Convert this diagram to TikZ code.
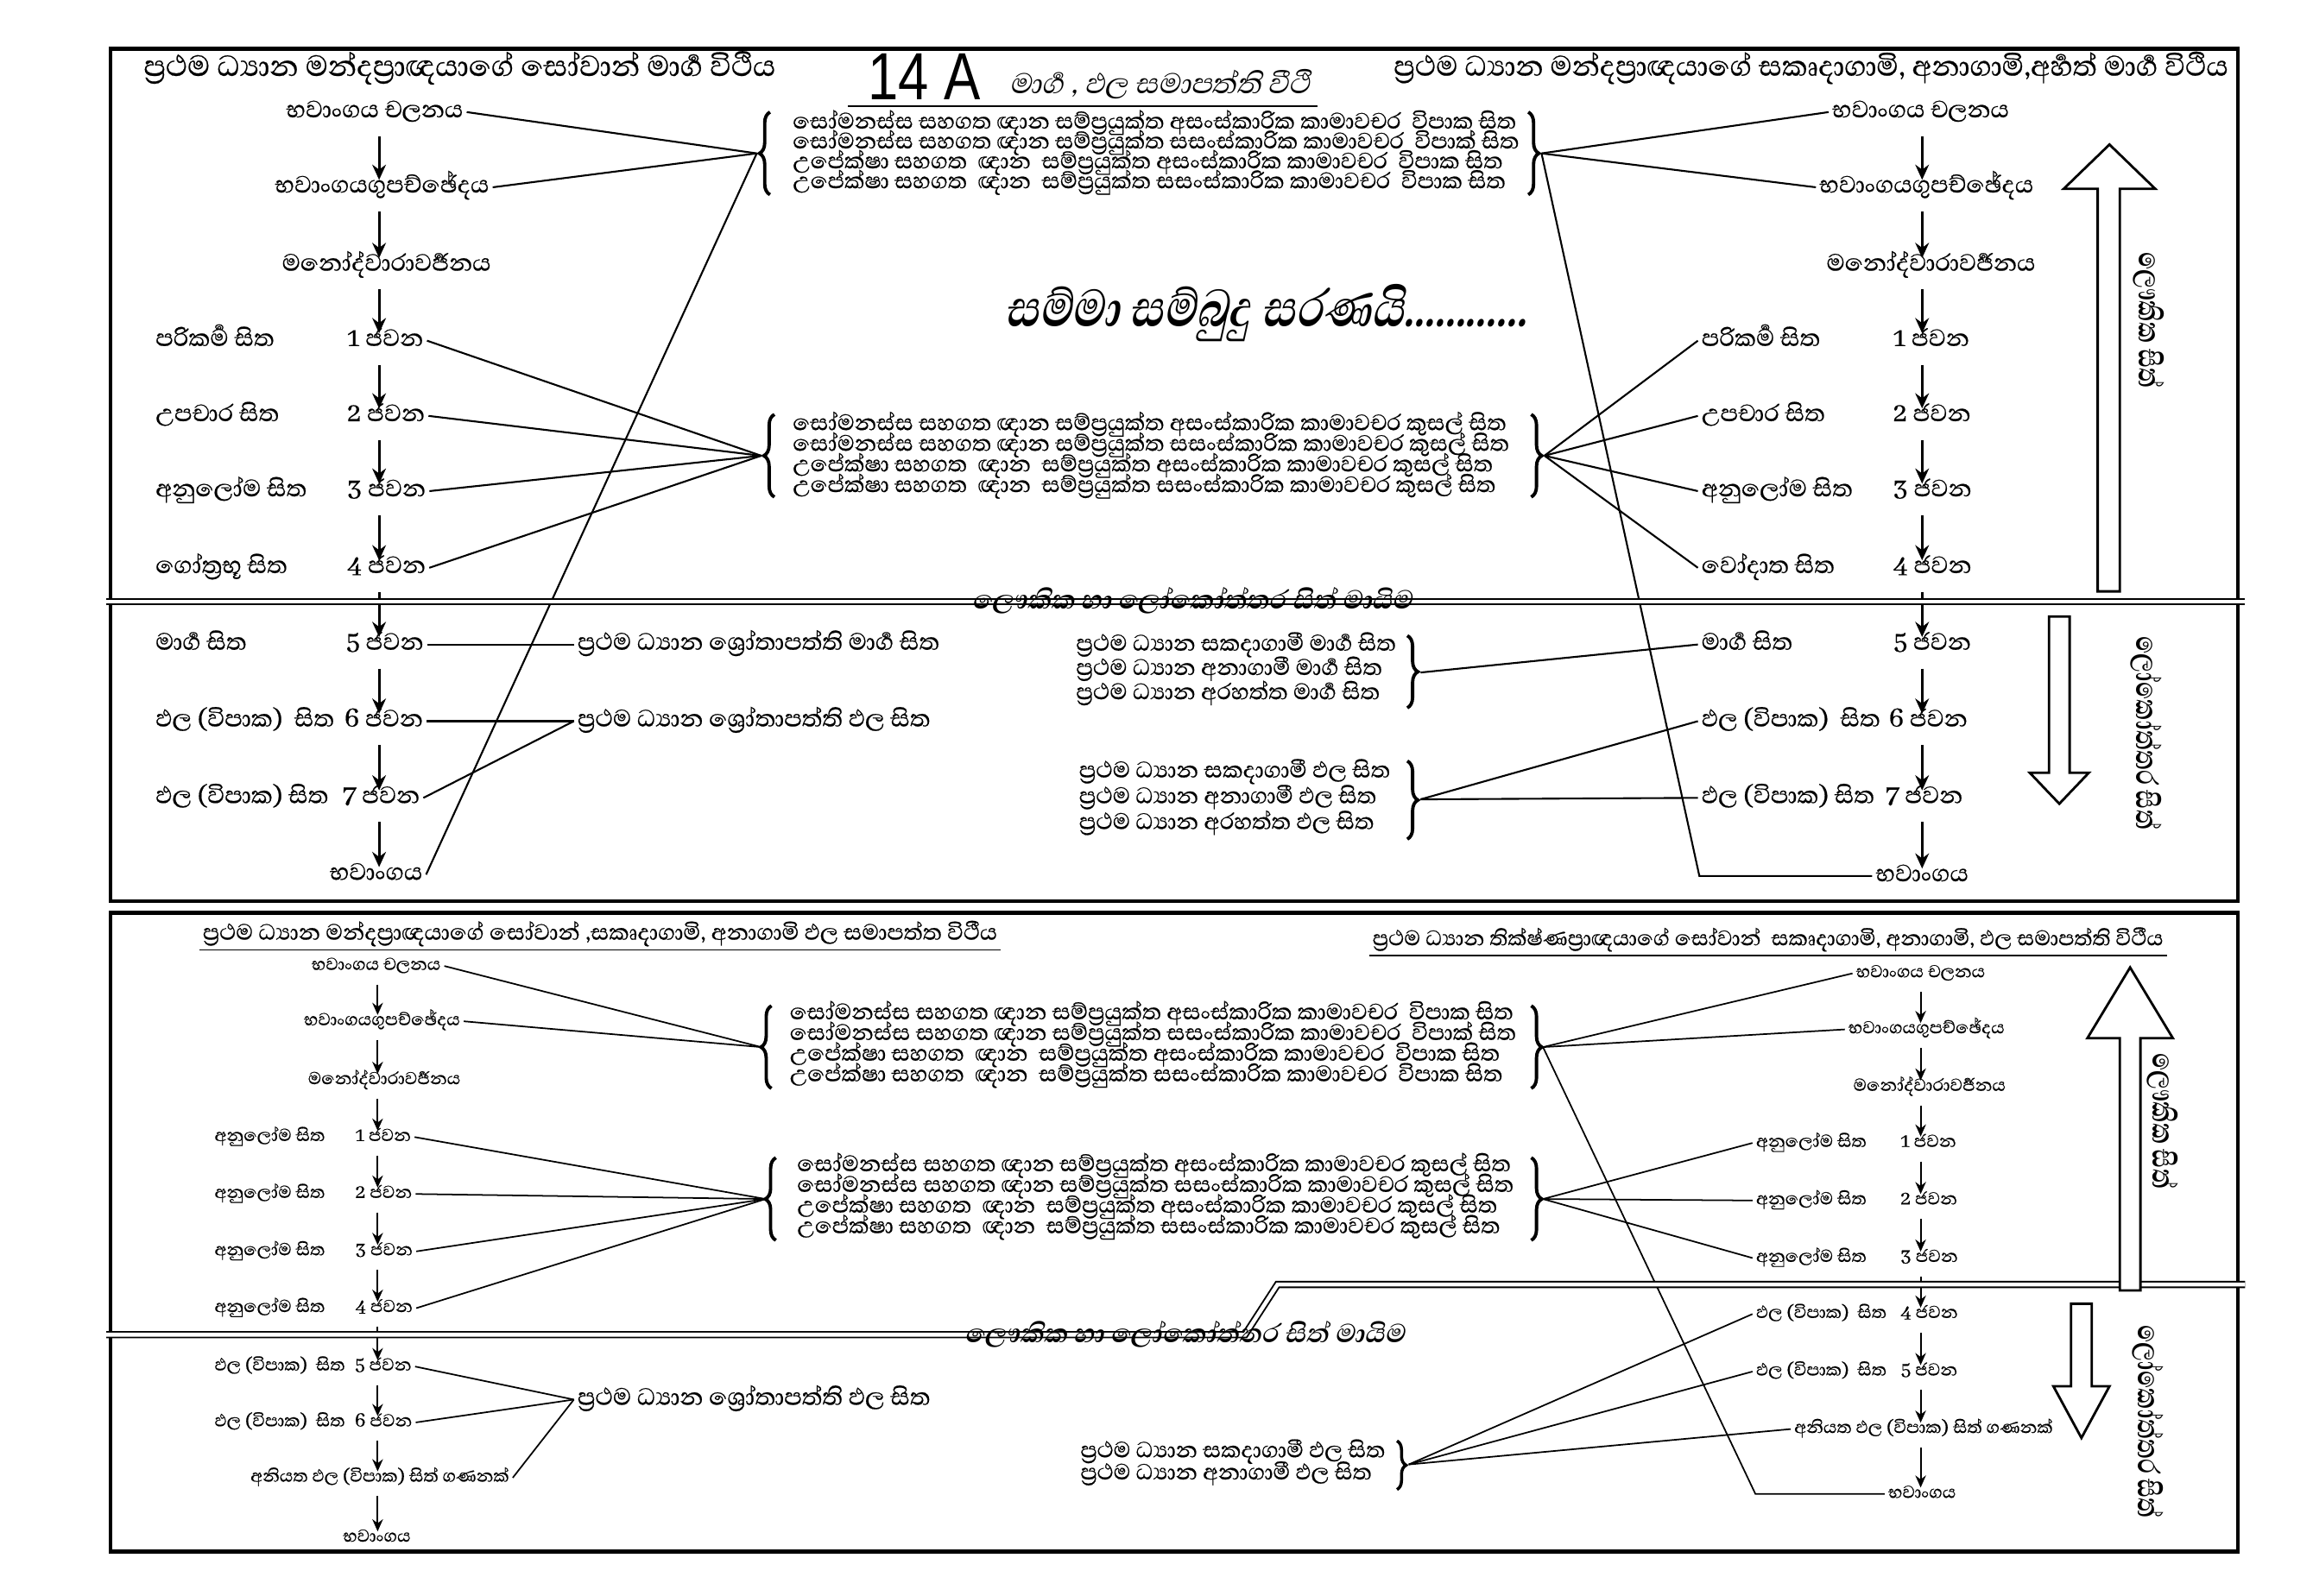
\documentclass[tikz,border=0pt]{standalone}
\usepackage{fontspec}
\usetikzlibrary{arrows.meta,decorations.pathreplacing}
\newfontfamily\sifont[Script=Sinhala,FakeBold=0.5]{Abhaya Libre}
\newfontfamily\sislant[Script=Sinhala,FakeSlant=0.22]{Abhaya Libre}
\newfontfamily\sitall[Script=Sinhala,FakeSlant=0.22,FakeStretch=0.8]{Abhaya Libre}
\newfontfamily\sinarrow[Script=Sinhala,FakeStretch=0.75]{Abhaya Libre}
\newfontfamily\latn{Liberation Sans}
\newcommand\jn{^^^^200d}
\tikzset{
  lbl/.style={font=\sifont\fontsize{10}{12}\selectfont, inner sep=1pt, text height=5pt, text depth=1.5pt},
  flbl/.style={font=\sifont\fontsize{9.5}{11}\selectfont, inner sep=1pt, anchor=west, text height=4.5pt, text depth=1.4pt},
  slbl/.style={font=\sifont\fontsize{7.3}{9}\selectfont, inner sep=1pt, text height=3.7pt, text depth=1.1pt},
  brtxt/.style={font=\sifont\fontsize{9.4}{11}\selectfont, inner sep=0pt, anchor=west, text height=4.4pt, text depth=1.3pt},
  head/.style={font=\sifont\fontsize{12.3}{15}\selectfont, inner sep=1pt},
  seplbl/.style={font=\sislant\bfseries\fontsize{11}{13}\selectfont, inner sep=0pt},
  sidelbl/.style={font=\sinarrow\bfseries\fontsize{13}{15}\selectfont, inner sep=0pt, rotate=-90},
  link/.style={line width=0.6pt},
  slink/.style={line width=0.5pt},
  down/.style={line width=0.9pt, -{Stealth[length=5pt,width=4.5pt]}, shorten <=3.5pt, shorten >=-2pt},
  sdown/.style={line width=0.6pt, -{Stealth[length=4pt,width=3.5pt]}, shorten <=2.5pt, shorten >=-1.5pt},
  brc/.style={decorate, decoration={brace, amplitude=3.5pt}, line width=1.1pt},
  sbrc/.style={decorate, decoration={brace, amplitude=3pt}, line width=1pt},
  frame/.style={line width=1.3pt},
  sep/.style={double, double distance=1.3pt, line width=0.55pt},
  hollow/.style={line width=0.8pt, fill=white},
}
\begin{document}
\begin{tikzpicture}[x=0.017086cm,y=-0.017086cm]
\useasboundingbox (0,0) rectangle (1568,1082);

% ---------- frames ----------
\draw[frame] (75,33) rectangle (1517,611);
\draw[frame] (75,619) rectangle (1517,1052);

% ---------- headings of the upper panel ----------
\node[head,anchor=west] (hA) at (95,46) {ප්\jn රථම ධ්\jn යාන මන්දප්\jn රාඥයාගේ සෝවාන් මාර්\jn ග විථිය};
\node[head,anchor=east,font=\sifont\fontsize{11.9}{15}\selectfont] (hB) at (1513,46) {ප්\jn රථම ධ්\jn යාන මන්දප්\jn රාඥයාගේ සකෘදාගාමි, අනාගාමි,අර්\jn හත් මාර්\jn ග විථිය};
\node[font=\latn\fontsize{22}{22}\selectfont, inner sep=0pt, anchor=west, xscale=0.82] (num) at (588,52) {14 A};
\node[font=\sislant\fontsize{12}{14}\selectfont, inner sep=0pt, anchor=west] (sub) at (684,57) {මාර්\jn ග , ඵල සමාපත්ති වීථි};
\coordinate (ulA) at (575,72);
\coordinate (ulB) at (893,72);
\draw[line width=0.6pt] (ulA) -- (ulB);
\node[font=\sitall\bfseries\fontsize{22}{24}\selectfont, inner sep=0pt] (motto) at (858,212) {සම්මා සම්බුදු සරණයි............};

% ---------- upper panel: left column ----------
\coordinate (axA) at (257,0);
\node[lbl] (a0) at (254,76) {භවාංගය චලනය};
\node[lbl] (a1) at (259,127) {භවාංගයගුපච්ඡේදය};
\node[lbl] (a2) at (262,180) {මනෝද්වාරාවර්\jn ජනය};
\node[lbl,anchor=west] (aL1) at (103,231) {පරිකර්\jn ම සිත};
\node[lbl,anchor=west] (aJ1) at (233,231) {1 ජවන};
\node[lbl,anchor=west] (aL2) at (103,282) {උපචාර සිත};
\node[lbl,anchor=west] (aJ2) at (233,282) {2 ජවන};
\node[lbl,anchor=west] (aL3) at (103,333) {අනුලෝම සිත};
\node[lbl,anchor=west] (aJ3) at (233,333) {3 ජවන};
\node[lbl,anchor=west] (aL4) at (103,385) {ගෝත්\jn රභූ සිත};
\node[lbl,anchor=west] (aJ4) at (233,385) {4 ජවන};
\node[lbl,anchor=west] (aL5) at (103,437) {මාර්\jn ග සිත};
\node[lbl,anchor=west] (aJ5) at (232,437) {5 ජවන};
\node[lbl,anchor=west] (aL6) at (103,489) {ඵල (විපාක)~ සිත};
\node[lbl,anchor=west] (aJ6) at (231,489) {6 ජවන};
\node[lbl,anchor=west] (aL7) at (103,541) {ඵල (විපාක) සිත};
\node[lbl,anchor=west] (aJ7) at (230,541) {7 ජවන};
\node[lbl] (a8) at (255,593) {භවාංගය};
\draw[down] (a0.south -| axA) -- (a1.north -| axA);
\draw[down] (a1.south -| axA) -- (a2.north -| axA);
\draw[down] (a2.south -| axA) -- (aJ1.north -| axA);
\draw[down] (aJ1.south -| axA) -- (aJ2.north -| axA);
\draw[down] (aJ2.south -| axA) -- (aJ3.north -| axA);
\draw[down] (aJ3.south -| axA) -- (aJ4.north -| axA);
\draw[down] (aJ4.south -| axA) -- (aJ5.north -| axA);
\draw[down] (aJ5.south -| axA) -- (aJ6.north -| axA);
\draw[down] (aJ6.south -| axA) -- (aJ7.north -| axA);
\draw[down] (aJ7.south -| axA) -- (a8.north -| axA);

\node[lbl,anchor=west] (sM) at (389,437) {ප්\jn රථම ධ්\jn යාන ශ්\jn රෝතාපත්ති මාර්\jn ග සිත};
\node[lbl,anchor=west] (sP) at (389,489) {ප්\jn රථම ධ්\jn යාන ශ්\jn රෝතාපත්ති ඵල සිත};

% ---------- upper panel: vipaka block ----------
\node[brtxt] (v1) at (537,84) {සෝමනස්ස සහගත ඥාන සම්ප්\jn රයුක්ත අසංස්කාරික කාමාවචර~ විපාක සිත};
\node[brtxt] (v2) at (537,97.5) {සෝමනස්ස සහගත ඥාන සම්ප්\jn රයුක්ත සසංස්කාරික කාමාවචර~ විපාක් සිත};
\node[brtxt] (v3) at (537,111) {උපේක්ෂා සහගත~ ඥාන~ සම්ප්\jn රයුක්ත අසංස්කාරික කාමාවචර~ විපාක සිත};
\node[brtxt] (v4) at (537,124.5) {උපේක්ෂා සහගත~ ඥාන~ සම්ප්\jn රයුක්ත සසංස්කාරික කාමාවචර~ විපාක සිත};
\draw[brc] (522,132) -- (522,76);
\draw[brc] (1036,76) -- (1036,132);
\coordinate (vL) at (513,104);
\coordinate (vR) at (1045,104);

% ---------- upper panel: kusala block ----------
\node[brtxt] (k1) at (537,288.5) {සෝමනස්ස සහගත ඥාන සම්ප්\jn රයුක්ත අසංස්කාරික කාමාවචර කුසල් සිත};
\node[brtxt] (k2) at (537,302.5) {සෝමනස්ස සහගත ඥාන සම්ප්\jn රයුක්ත සසංස්කාරික කාමාවචර කුසල් සිත};
\node[brtxt] (k3) at (537,316.5) {උපේක්ෂා සහගත~ ඥාන~ සම්ප්\jn රයුක්ත අසංස්කාරික කාමාවචර කුසල් සිත};
\node[brtxt] (k4) at (537,330.5) {උපේක්ෂා සහගත~ ඥාන~ සම්ප්\jn රයුක්ත සසංස්කාරික කාමාවචර කුසල් සිත};
\draw[brc] (525,337) -- (525,281);
\draw[brc] (1038,281) -- (1038,337);
\coordinate (kL) at (516,309);
\coordinate (kR) at (1047,309);

\draw[link] (a0.east) -- (vL);
\draw[link] (a1.east) -- (vL);
\draw[link] (a8.east) -- (vL);
\draw[link] (aJ1.east) -- (kL);
\draw[link] (aJ2.east) -- (kL);
\draw[link] (aJ3.east) -- (kL);
\draw[link] (aJ4.east) -- (kL);
\draw[link] (aJ5.east) -- (sM.west);
\draw[link] (aJ6.east) -- (sP.west);
\draw[link] (aJ7.east) -- (sP.west);

% ---------- upper panel: path / fruit blocks ----------
\node[flbl] (m1) at (727,438) {ප්\jn රථම ධ්\jn යාන සකදාගාමී මාර්\jn ග සිත};
\node[flbl] (m2) at (727,454.5) {ප්\jn රථම ධ්\jn යාන අනාගාමී මාර්\jn ග සිත};
\node[flbl] (m3) at (727,471) {ප්\jn රථම ධ්\jn යාන අරහත්ත මාර්\jn ග සිත};
\draw[brc] (954,431) -- (954,480);
\coordinate (mR) at (963,456);
\node[flbl] (f1) at (729,524) {ප්\jn රථම ධ්\jn යාන සකදාගාමී ඵල සිත};
\node[flbl] (f2) at (729,541.5) {ප්\jn රථම ධ්\jn යාන අනාගාමී ඵල සිත};
\node[flbl] (f3) at (729,559) {ප්\jn රථම ධ්\jn යාන අරහත්ත ඵල සිත};
\draw[brc] (954,516) -- (954,569);
\coordinate (fR) at (963,542);

% ---------- upper panel: right column ----------
\coordinate (axB) at (1303,0);
\node[lbl] (c0) at (1302,76) {භවාංගය චලනය};
\node[lbl] (c1) at (1306,127) {භවාංගයගුපච්ඡේදය};
\node[lbl] (c2) at (1309,180) {මනෝද්වාරාවර්\jn ජනය};
\node[lbl,anchor=west] (cL1) at (1151,231) {පරිකර්\jn ම සිත};
\node[lbl,anchor=west] (cJ1) at (1281,231) {1 ජවන};
\node[lbl,anchor=west] (cL2) at (1151,282) {උපචාර සිත};
\node[lbl,anchor=west] (cJ2) at (1281,282) {2 ජවන};
\node[lbl,anchor=west] (cL3) at (1151,333) {අනුලෝම සිත};
\node[lbl,anchor=west] (cJ3) at (1281,333) {3 ජවන};
\node[lbl,anchor=west] (cL4) at (1151,385) {වෝදාත සිත};
\node[lbl,anchor=west] (cJ4) at (1281,385) {4 ජවන};
\node[lbl,anchor=west] (cL5) at (1151,437) {මාර්\jn ග සිත};
\node[lbl,anchor=west] (cJ5) at (1281,437) {5 ජවන};
\node[lbl,anchor=west] (cL6) at (1151,489) {ඵල (විපාක)~ සිත};
\node[lbl,anchor=west] (cJ6) at (1278,489) {6 ජවන};
\node[lbl,anchor=west] (cL7) at (1151,541) {ඵල (විපාක) සිත};
\node[lbl,anchor=west] (cJ7) at (1276,541) {7 ජවන};
\node[lbl] (c8) at (1303,594) {භවාංගය};
\draw[down] (c0.south -| axB) -- (c1.north -| axB);
\draw[down] (c1.south -| axB) -- (c2.north -| axB);
\draw[down] (c2.south -| axB) -- (cJ1.north -| axB);
\draw[down] (cJ1.south -| axB) -- (cJ2.north -| axB);
\draw[down] (cJ2.south -| axB) -- (cJ3.north -| axB);
\draw[down] (cJ3.south -| axB) -- (cJ4.north -| axB);
\draw[down] (cJ4.south -| axB) -- (cJ5.north -| axB);
\draw[down] (cJ5.south -| axB) -- (cJ6.north -| axB);
\draw[down] (cJ6.south -| axB) -- (cJ7.north -| axB);
\draw[down] (cJ7.south -| axB) -- (c8.north -| axB);

\coordinate (cK) at (1152,594);
\draw[link] (vR) -- (c0.west);
\draw[link] (vR) -- (c1.west);
\draw[link] (vR) -- (cK) -- (c8.west);
\draw[link] (kR) -- (cL1.west);
\draw[link] (kR) -- (cL2.west);
\draw[link] (kR) -- (cL3.west);
\draw[link] (kR) -- (cL4.west);
\draw[link] (mR) -- (cL5.west);
\draw[link] (fR) -- (cL6.west);
\draw[link] (fR) -- (cL7.west);

% ---------- upper panel: boundary and side arrows ----------
\coordinate (sepA1) at (72,408);
\coordinate (sepA2) at (1522,408);
\draw[sep] (sepA1) -- (sepA2);
\node[seplbl] (sepAl) at (808,407) {ලෞකික හා ලෝකෝත්තර සිත් මායිම};
\draw[hollow] (1422,401) -- (1422,128) -- (1399,128) -- (1430,98) -- (1461,128) -- (1437,128) -- (1437,401) -- cycle;
\draw[hollow] (1389,418) -- (1389,524) -- (1376,524) -- (1396,545) -- (1416,524) -- (1403,524) -- (1403,418) -- cycle;
\node[sidelbl] (lkA) at (1457,217) {ලෞකික සිත්};
\node[sidelbl] (lkB) at (1455,497) {ලෝකෝත්තර සිත්};

% ---------- lower panel: headings ----------
\node[font=\sifont\fontsize{9.35}{11}\selectfont, inner sep=1pt, anchor=west] (hC) at (135,633) {ප්\jn රථම ධ්\jn යාන මන්දප්\jn රාඥයාගේ සෝවාන් ,සකෘදාගාමි, අනාගාමි ඵල සමාපත්ත විථීය};
\draw[line width=0.5pt] (hC.south west) -- (hC.south east);
\node[font=\sifont\fontsize{8.9}{11}\selectfont, inner sep=1pt, anchor=west] (hD) at (928,637) {ප්\jn රථම ධ්\jn යාන තික්ෂ්ණප්\jn රාඥයාගේ සෝවාන්~ සකෘදාගාමි, අනාගාමි, ඵල සමාපත්ති විථීය};
\draw[line width=0.5pt] (hD.south west) -- (hD.south east);

% ---------- lower panel: left column ----------
\coordinate (axC) at (256,0);
\node[slbl] (d0) at (255,655) {භවාංගය චලනය};
\node[slbl] (d1) at (259,692.5) {භවාංගයගුපච්ඡේදය};
\node[slbl] (d2) at (260.5,732.5) {මනෝද්වාරාවර්\jn ජනය};
\node[slbl,anchor=west] (dL1) at (143,771) {අනුලෝම සිත};
\node[slbl,anchor=west] (dJ1) at (238.5,771) {1 ජවන};
\node[slbl,anchor=west] (dL2) at (143,809.6) {අනුලෝම සිත};
\node[slbl,anchor=west] (dJ2) at (238.5,809.6) {2 ජවන};
\node[slbl,anchor=west] (dL3) at (143,848.5) {අනුලෝම සිත};
\node[slbl,anchor=west] (dJ3) at (238.5,848.5) {3 ජවන};
\node[slbl,anchor=west] (dL4) at (143,887) {අනුලෝම සිත};
\node[slbl,anchor=west] (dJ4) at (238.5,887) {4 ජවන};
\node[slbl,anchor=west] (dL5) at (143,926.6) {ඵල (විපාක)~ සිත};
\node[slbl,anchor=west] (dJ5) at (238,926.6) {5 ජවන};
\node[slbl,anchor=west] (dL6) at (143,964.5) {ඵල (විපාක)~ සිත};
\node[slbl,anchor=west] (dJ6) at (238,964.5) {6 ජවන};
\node[slbl] (d7) at (257.5,1002) {අනියත ඵල (විපාක) සිත් ගණනක්};
\node[slbl] (d8) at (255.5,1042.7) {භවාංගය};
\draw[sdown] (d0.south -| axC) -- (d1.north -| axC);
\draw[sdown] (d1.south -| axC) -- (d2.north -| axC);
\draw[sdown] (d2.south -| axC) -- (dJ1.north -| axC);
\draw[sdown] (dJ1.south -| axC) -- (dJ2.north -| axC);
\draw[sdown] (dJ2.south -| axC) -- (dJ3.north -| axC);
\draw[sdown] (dJ3.south -| axC) -- (dJ4.north -| axC);
\draw[sdown] (dJ4.south -| axC) -- (dJ5.north -| axC);
\draw[sdown] (dJ5.south -| axC) -- (dJ6.north -| axC);
\draw[sdown] (dJ6.south -| axC) -- (d7.north -| axC);
\draw[sdown] (d7.south -| axC) -- (d8.north -| axC);
\node[lbl,anchor=west] (sQ) at (389,949) {ප්\jn රථම ධ්\jn යාන ශ්\jn රෝතාපත්ති ඵල සිත};

% ---------- lower panel: vipaka and kusala blocks ----------
\node[brtxt] (w1) at (535,688) {සෝමනස්ස සහගත ඥාන සම්ප්\jn රයුක්ත අසංස්කාරික කාමාවචර~ විපාක සිත};
\node[brtxt] (w2) at (535,702) {සෝමනස්ස සහගත ඥාන සම්ප්\jn රයුක්ත සසංස්කාරික කාමාවචර~ විපාක් සිත};
\node[brtxt] (w3) at (535,716) {උපේක්ෂා සහගත~ ඥාන~ සම්ප්\jn රයුක්ත අසංස්කාරික කාමාවචර~ විපාක සිත};
\node[brtxt] (w4) at (535,730) {උපේක්ෂා සහගත~ ඥාන~ සම්ප්\jn රයුක්ත සසංස්කාරික කාමාවචර~ විපාක සිත};
\draw[brc] (523,738) -- (523,682);
\draw[brc] (1038,682) -- (1038,738);
\coordinate (wL) at (516,710);
\coordinate (wR) at (1046,710);
\node[brtxt] (x1) at (540,791) {සෝමනස්ස සහගත ඥාන සම්ප්\jn රයුක්ත අසංස්කාරික කාමාවචර කුසල් සිත};
\node[brtxt] (x2) at (540,805) {සෝමනස්ස සහගත ඥාන සම්ප්\jn රයුක්ත සසංස්කාරික කාමාවචර කුසල් සිත};
\node[brtxt] (x3) at (540,819) {උපේක්ෂා සහගත~ ඥාන~ සම්ප්\jn රයුක්ත අසංස්කාරික කාමාවචර කුසල් සිත};
\node[brtxt] (x4) at (540,833) {උපේක්ෂා සහගත~ ඥාන~ සම්ප්\jn රයුක්ත සසංස්කාරික කාමාවචර කුසල් සිත};
\draw[brc] (526,841) -- (526,785);
\draw[brc] (1038,785) -- (1038,841);
\coordinate (xL) at (519,813);
\coordinate (xR) at (1046,813);

\draw[slink] (d0.east) -- (wL);
\draw[slink] (d1.east) -- (wL);
\draw[slink] (dJ1.east) -- (xL);
\draw[slink] (dJ2.east) -- (xL);
\draw[slink] (dJ3.east) -- (xL);
\draw[slink] (dJ4.east) -- (xL);
\draw[slink] (dJ5.east) -- (sQ.west);
\draw[slink] (dJ6.east) -- (sQ.west);
\draw[slink] (d7.east) -- (sQ.west);

% ---------- lower panel: fruit block ----------
\node[flbl,font=\sifont\fontsize{9.3}{11}\selectfont] (g1) at (730,985) {ප්\jn රථම ධ්\jn යාන සකදාගාමී ඵල සිත};
\node[flbl,font=\sifont\fontsize{9.3}{11}\selectfont] (g2) at (730,1000) {ප්\jn රථම ධ්\jn යාන අනාගාමී ඵල සිත};
\draw[sbrc] (947,977) -- (947,1010);
\coordinate (gR) at (955,993);

% ---------- lower panel: right column ----------
\coordinate (axD) at (1302,0);
\node[slbl] (e0) at (1302,660) {භවාංගය චලනය};
\node[slbl] (e1) at (1306,698) {භවාංගයගුපච්ඡේදය};
\node[slbl] (e2) at (1308,737) {මනෝද්වාරාවර්\jn ජනය};
\node[slbl,anchor=west] (eL1) at (1188,775) {අනුලෝම සිත};
\node[slbl,anchor=west] (eJ1) at (1286,775) {1 ජවන};
\node[slbl,anchor=west] (eL2) at (1188,814) {අනුලෝම සිත};
\node[slbl,anchor=west] (eJ2) at (1286,814) {2 ජවන};
\node[slbl,anchor=west] (eL3) at (1188,853) {අනුලෝම සිත};
\node[slbl,anchor=west] (eJ3) at (1286,853) {3 ජවන};
\node[slbl,anchor=west] (eL4) at (1188,891) {ඵල (විපාක)~ සිත};
\node[slbl,anchor=west] (eJ4) at (1286,891) {4 ජවන};
\node[slbl,anchor=west] (eL5) at (1188,930) {ඵල (විපාක)~ සිත};
\node[slbl,anchor=west] (eJ5) at (1286,930) {5 ජවන};
\node[slbl] (e7) at (1304,969) {අනියත ඵල (විපාක) සිත් ගණනක්};
\node[slbl] (e8) at (1303,1013) {භවාංගය};
\draw[sdown] (e0.south -| axD) -- (e1.north -| axD);
\draw[sdown] (e1.south -| axD) -- (e2.north -| axD);
\draw[sdown] (e2.south -| axD) -- (eJ1.north -| axD);
\draw[sdown] (eJ1.south -| axD) -- (eJ2.north -| axD);
\draw[sdown] (eJ2.south -| axD) -- (eJ3.north -| axD);
\draw[sdown] (eJ3.south -| axD) -- (eJ4.north -| axD);
\draw[sdown] (eJ4.south -| axD) -- (eJ5.north -| axD);
\draw[sdown] (eJ5.south -| axD) -- (e7.north -| axD);
\draw[sdown] (e7.south -| axD) -- (e8.north -| axD);

\coordinate (eK) at (1190,1013);
\draw[slink] (wR) -- (e0.west);
\draw[slink] (wR) -- (e1.west);
\draw[slink] (wR) -- (eK) -- (e8.west);
\draw[slink] (xR) -- (eL1.west);
\draw[slink] (xR) -- (eL2.west);
\draw[slink] (xR) -- (eL3.west);
\draw[slink] (gR) -- (eL4.west);
\draw[slink] (gR) -- (eL5.west);
\draw[slink] (gR) -- (e7.west);

% ---------- lower panel: boundary and side arrows ----------
\coordinate (sepB1) at (72,905);
\coordinate (sepB2) at (844,905);
\coordinate (sepB3) at (866,871);
\coordinate (sepB4) at (1522,871);
\draw[sep] (sepB1) -- (sepB2) -- (sepB3) -- (sepB4);
\node[seplbl] (sepBl) at (803,905) {ලෞකික හා ලෝකෝත්තර සිත් මායිම};
\draw[hollow] (1437,875) -- (1437,704) -- (1415,704) -- (1444,656) -- (1473,704) -- (1451,704) -- (1451,875) -- cycle;
\draw[hollow] (1404,884) -- (1404,940) -- (1392,940) -- (1411,975) -- (1430,940) -- (1418,940) -- (1418,884) -- cycle;
\node[sidelbl] (lkC) at (1466,760) {ලෞකික සිත්};
\node[sidelbl] (lkD) at (1456,964) {ලෝකෝත්තර සිත්};
\end{tikzpicture}
\end{document}
